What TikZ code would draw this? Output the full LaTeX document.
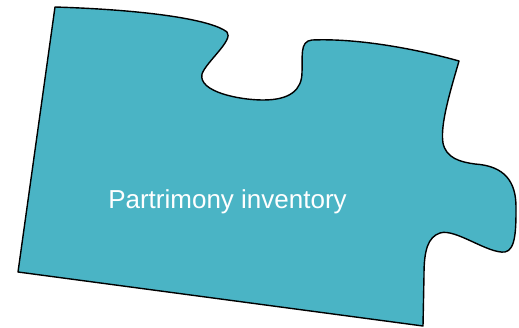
\documentclass[tikz,border=0pt]{standalone}
\usepackage{fontspec}
\setmainfont{Liberation Sans}
\definecolor{piece}{HTML}{4AB4C5}
\begin{document}
\begin{tikzpicture}[x=1pt,y=-1pt,
  puzzle/.style={fill=piece,draw=black,line width=1.4pt,line join=round},
  label/.style={text=white,font=\fontsize{26}{30}\selectfont,inner sep=0pt,anchor=base}]
\useasboundingbox (0,0) rectangle (519,327);
\path[puzzle] (55,7)
  .. controls (150,10) and (212,20) .. (227,32)
  .. controls (234,40) and (206,62) .. (202,74)
  .. controls (198,92) and (240,100) .. (263,100)
  .. controls (290,100) and (302,90) .. (302,72)
  .. controls (303,58) and (299,41) .. (312,40)
  .. controls (360,38) and (420,50) .. (459,61)
  .. controls (450,92) and (440,125) .. (443,143)
  .. controls (446,158) and (460,162) .. (475,164)
  .. controls (505,166) and (516,182) .. (516,207)
  .. controls (516,228) and (516,250) .. (505,252)
  .. controls (488,254) and (455,228) .. (440,233)
  .. controls (428,237) and (424,250) .. (424,275)
  -- (423,326) -- (18,272) -- cycle;
\node[label] (t) at (227.5,208) {Partrimony inventory};
\end{tikzpicture}
\end{document}
